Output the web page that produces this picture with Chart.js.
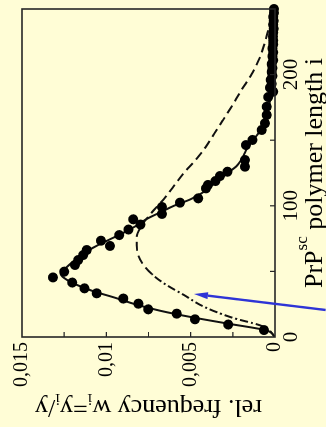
<!DOCTYPE html>
<html>
<head>
<meta charset="utf-8">
<script src="https://cdn.jsdelivr.net/npm/chart.js@4/dist/chart.umd.min.js"></script>
<style>
  html, body { margin: 0; padding: 0; width: 326px; height: 427px; overflow: hidden; background: #fffdd6; }
  /* the figure is laid out landscape and turned a quarter turn counter-clockwise */
  #turn { position: absolute; left: 0; top: 0; width: 427px; height: 326px;
          transform-origin: 0 0; transform: translate(0, 427px) rotate(-90deg); }
  canvas { display: block; }
</style>
</head>
<body>
<div id="turn"><canvas id="c" width="427" height="326"></canvas></div>
<script>
// axis ticks
const lengthTicks = [0, 100, 200];
const lengthTickLabels = ['0', '100', '200'];
const lengthMinorTicks = [50, 100, 150, 200];
const freqTicks = [0, 0.005, 0.01, 0.015];
const freqTickLabels = ['0', '0,005', '0,01', '0,015'];
const freqMinorTicks = [0.0025, 0.005, 0.0075, 0.01, 0.0125];

// measured polymer length distribution
const measuredLength = [5.3, 9.5, 13.5, 17.8, 21.1, 25.4, 29.3, 33.3, 37.1, 41.5, 45.4, 49.8, 54.9, 58.7, 62.5, 66.3,
  69.4, 73.4, 77.7, 81.9, 85.7, 89.7, 93.8, 99.1, 102.4, 105.7, 113.3, 115.9, 118.9, 122.7, 126.0, 129.8, 134.9,
  146.3, 150.2, 157.8, 162.9, 169.2, 175.5, 182.9, 187.0, 190, 193, 196, 199, 202, 205, 208, 211, 214, 217, 220,
  223, 226, 229, 232, 235, 238, 241, 244, 247, 250];
const measuredFreq = [0.00065, 0.00277, 0.00474, 0.00583, 0.00751, 0.00810, 0.00899, 0.01057, 0.01129, 0.01202,
  0.01316, 0.01249, 0.01186, 0.01166, 0.01137, 0.01116, 0.00978, 0.01032, 0.00923, 0.00869, 0.00797, 0.00840,
  0.00670, 0.00670, 0.00563, 0.00455, 0.00409, 0.00397, 0.00353, 0.00326, 0.00282, 0.00178, 0.00178, 0.00172,
  0.00133, 0.00079, 0.00059, 0.00049, 0.00049, 0.00040, 0.00010, 0.00030, 0.00020, 0.00025, 0.00015, 0.00020,
  0.00015, 0.00020, 0.00010, 0.00015, 0.00010, 0.00015, 0.00010, 0.00010, 0.00012, 0.00010, 0.00008, 0.00010,
  0.00008, 0.00010, 0.00006, 0.00006];

// fitted curve (solid)
const fitLength = [0, 5, 10, 15, 20, 25, 30, 35, 40, 45, 48, 50, 55, 60, 65, 70, 75, 80, 85, 90, 95, 100, 105, 110,
  115, 120, 125, 130, 135, 140, 145, 150, 155, 160, 170, 180, 190, 200, 225, 250];
const fitFreq = [0, 0.0005, 0.0027, 0.0049, 0.0068, 0.0083, 0.0095, 0.0108, 0.0118, 0.0125, 0.0127, 0.0126, 0.0122,
  0.0117, 0.0112, 0.0105, 0.0097, 0.0089, 0.0082, 0.0076, 0.0068, 0.0060, 0.0050, 0.0043, 0.0038, 0.0033, 0.0028,
  0.0023, 0.0020, 0.0018, 0.0016, 0.0013, 0.0010, 0.0008, 0.0005, 0.0003, 0.0002, 0.00015, 0.0001, 0.00005];

// model curve (dash-dot below i = 48, dashed above)
const modelLength = [0, 8, 15, 23, 32, 41, 48, 55, 62, 70, 76, 85, 95, 105, 115, 125, 135, 145, 155, 165, 175, 188,
  200, 213, 229, 240, 250];
const modelFreq = [0, 0.0007, 0.0026, 0.0042, 0.0054, 0.0066, 0.0073, 0.0078, 0.0081, 0.0082, 0.0082, 0.0079, 0.0073,
  0.0066, 0.0060, 0.0054, 0.0047, 0.0041, 0.0036, 0.0031, 0.0026, 0.0020, 0.0014, 0.0009, 0.0005, 0.0003, 0.0001];
const modelDashDotEnd = 48;

// pointer onto the dash-dot part (length, frequency)
const arrowTail = [20.6, -0.003];
const arrowHead = [32.8, 0.0048];

const serif = 'Liberation Serif';
const toXY = (xs, ys) => xs.map((x, k) => ({ x, y: ys[k] }));

const frame = {
  id: 'frame',
  afterDraw(chart) {
    const { ctx, chartArea: a, scales: { x, y } } = chart;
    ctx.save();
    // plot frame
    ctx.strokeStyle = '#262626';
    ctx.lineWidth = 1.6;
    ctx.strokeRect(a.left, a.top, a.right - a.left, a.bottom - a.top);
    // inward tick marks
    ctx.lineWidth = 1.2;
    ctx.beginPath();
    lengthMinorTicks.forEach(v => { const px = x.getPixelForValue(v); ctx.moveTo(px, a.bottom); ctx.lineTo(px, a.bottom - 5); });
    freqMinorTicks.forEach(v => { const py = y.getPixelForValue(v); ctx.moveTo(a.left, py); ctx.lineTo(a.left + 5, py); });
    ctx.stroke();

    // x axis title with superscript
    ctx.fillStyle = '#000';
    ctx.textBaseline = 'alphabetic';
    ctx.textAlign = 'left';
    const xParts = [
      { t: 'PrP', f: '26px ' + serif, dy: 0 },
      { t: 'sc', f: '17px ' + serif, dy: -15 },
      { t: ' polymer length i', f: '26px ' + serif, dy: 0 }
    ];
    let w = 0;
    xParts.forEach(p => { ctx.font = p.f; p.w = ctx.measureText(p.t).width; w += p.w; });
    let cx = (a.left + a.right) / 2 - w / 2;
    const xBase = 322;
    xParts.forEach(p => { ctx.font = p.f; ctx.fillText(p.t, cx, xBase + p.dy); cx += p.w; });

    // y axis title with subscripts, written bottom to top
    const yParts = [
      { t: 'rel. frequency w', f: '26px ' + serif, dy: 0 },
      { t: 'i', f: '17px ' + serif, dy: 6 },
      { t: '=y', f: '26px ' + serif, dy: 0 },
      { t: 'i', f: '17px ' + serif, dy: 6 },
      { t: '/y', f: '26px ' + serif, dy: 0 }
    ];
    w = 0;
    yParts.forEach(p => { ctx.font = p.f; p.w = ctx.measureText(p.t).width; w += p.w; });
    ctx.save();
    ctx.translate(27, (a.top + a.bottom) / 2);
    ctx.rotate(-Math.PI / 2);
    let cy = -w / 2;
    yParts.forEach(p => { ctx.font = p.f; ctx.fillText(p.t, cy, p.dy); cy += p.w; });
    ctx.restore();

    // blue pointer
    const x0 = x.getPixelForValue(arrowTail[0]), y0 = y.getPixelForValue(arrowTail[1]);
    const x1 = x.getPixelForValue(arrowHead[0]), y1 = y.getPixelForValue(arrowHead[1]);
    const ang = Math.atan2(y1 - y0, x1 - x0);
    const len = 14, half = 3.5;
    const bx = x1 - len * Math.cos(ang), by = y1 - len * Math.sin(ang);
    ctx.strokeStyle = '#2e34d6';
    ctx.fillStyle = '#2e34d6';
    ctx.lineWidth = 2.4;
    ctx.beginPath();
    ctx.moveTo(x0, y0);
    ctx.lineTo(bx, by);
    ctx.stroke();
    ctx.beginPath();
    ctx.moveTo(x1, y1);
    ctx.lineTo(bx + half * Math.sin(ang), by - half * Math.cos(ang));
    ctx.lineTo(bx - half * Math.sin(ang), by + half * Math.cos(ang));
    ctx.closePath();
    ctx.fill();
    ctx.restore();
  }
};

new Chart(document.getElementById('c'), {
  type: 'scatter',
  data: {
    datasets: [
      {
        label: 'model',
        data: toXY(modelLength, modelFreq),
        showLine: true,
        borderColor: '#111',
        borderWidth: 2,
        pointRadius: 0,
        cubicInterpolationMode: 'monotone',
        segment: {
          borderDash: c => (c.p1.parsed.x <= modelDashDotEnd ? [8, 3, 2, 3] : [9, 5])
        },
        order: 3
      },
      {
        label: 'fit',
        data: toXY(fitLength, fitFreq),
        showLine: true,
        borderColor: '#111',
        borderWidth: 2,
        pointRadius: 0,
        cubicInterpolationMode: 'monotone',
        order: 2
      },
      {
        label: 'measured',
        data: toXY(measuredLength, measuredFreq),
        showLine: false,
        pointRadius: 5,
        pointBackgroundColor: '#000',
        pointBorderColor: '#000',
        pointBorderWidth: 0,
        clip: false,
        order: 1
      }
    ]
  },
  options: {
    responsive: false,
    devicePixelRatio: 1,
    animation: false,
    events: [],
    layout: { padding: { top: 22, right: 9, left: 0, bottom: 0 } },
    plugins: { legend: { display: false }, tooltip: { enabled: false } },
    scales: {
      x: {
        type: 'linear', min: 0, max: 250,
        grid: { display: false, drawTicks: false },
        border: { display: false },
        afterBuildTicks: s => { s.ticks = lengthTicks.map(v => ({ value: v })); },
        afterFit: s => { s.height = 51; },
        ticks: {
          autoSkip: false, maxRotation: 0, minRotation: 0, padding: 4,
          color: '#000', font: { family: serif, size: 21 },
          callback: (v, i) => lengthTickLabels[i]
        }
      },
      y: {
        type: 'linear', min: 0, max: 0.015,
        grid: { display: false, drawTicks: false },
        border: { display: false },
        afterBuildTicks: s => { s.ticks = freqTicks.map(v => ({ value: v })); },
        afterFit: s => { s.width = 90; },
        ticks: {
          autoSkip: false, padding: 5,
          color: '#000', font: { family: serif, size: 20 },
          callback: (v, i) => freqTickLabels[i]
        }
      }
    }
  },
  plugins: [frame]
});
</script>
</body>
</html>
